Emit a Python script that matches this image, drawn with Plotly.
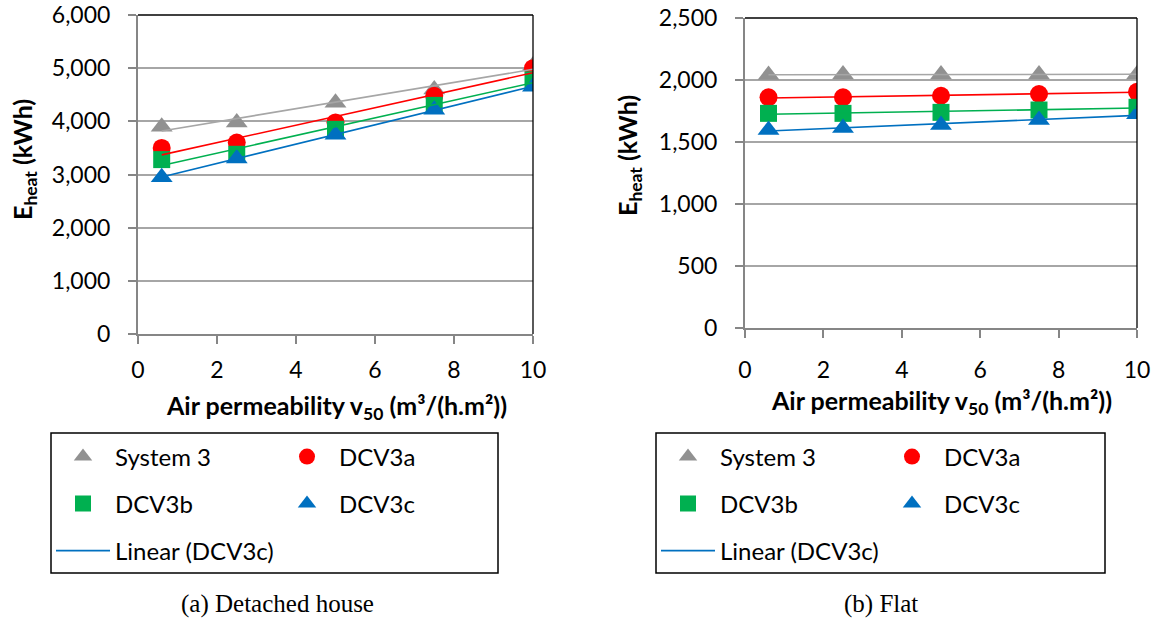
import numpy as np
import plotly.graph_objects as go

# ---------------- data ----------------
x_vals = [0.6, 2.5, 5, 7.5, 10]
series_names = ["System 3", "DCV3a", "DCV3b", "DCV3c"]

house_system3 = [3900, 3980, 4350, 4600, 5050]
house_dcv3a = [3500, 3600, 3980, 4480, 5000]
house_dcv3b = [3280, 3380, 3850, 4300, 4780]
house_dcv3c = [2950, 3300, 3750, 4220, 4650]

flat_system3 = [2040, 2045, 2045, 2045, 2045]
flat_dcv3a = [1860, 1860, 1873, 1887, 1905]
flat_dcv3b = [1731, 1731, 1739, 1758, 1780]
flat_dcv3c = [1597, 1613, 1637, 1677, 1723]

x_tick_vals = [0, 2, 4, 6, 8, 10]
house_y_ticks = [0, 1000, 2000, 3000, 4000, 5000, 6000]
flat_y_ticks = [0, 500, 1000, 1500, 2000, 2500]

captions = ["(a) Detached house", "(b) Flat"]
x_title = "Air permeability v<sub>50</sub> (m³/(h.m²))"
y_title = "E<sub>heat</sub> (kWh)"

# ---------------- styles ----------------
W, H = 1160, 622
FONT = "Lato"
marker_colors = ["#919191", "#FF0000", "#00B050", "#0070C0"]
trend_colors = ["#A6A6A6", "#FF0000", "#00B050", "#0070C0"]
symbols = ["triangle-up", "circle", "square", "triangle-up"]
msizes = [19, 18, 17, 19]


def fx(p):
    return p / W


def fy(p):
    return 1 - p / H


fig = go.Figure()

panels = [
    dict(xa="x", ya="y", data=[house_system3, house_dcv3a, house_dcv3b, house_dcv3c],
         legends=["legend", "legend", "legend2", "legend2", "legend3"]),
    dict(xa="x2", ya="y2", data=[flat_system3, flat_dcv3a, flat_dcv3b, flat_dcv3c],
         legends=["legend4", "legend4", "legend5", "legend5", "legend6"]),
]

for p in panels:
    for i, (name, ys) in enumerate(zip(series_names, p["data"])):
        fig.add_trace(go.Scatter(
            x=x_vals, y=ys, mode="markers", name=name,
            xaxis=p["xa"], yaxis=p["ya"], legend=p["legends"][i],
            marker=dict(symbol=symbols[i], size=msizes[i], color=marker_colors[i],
                        line=dict(width=0)),
            showlegend=True, hoverinfo="x+y+name"))
    for i, (name, ys) in enumerate(zip(series_names, p["data"])):
        slope, icpt = np.polyfit(x_vals, ys, 1)
        xt = [min(x_vals), max(x_vals)]
        yt = [slope * v + icpt for v in xt]
        fig.add_trace(go.Scatter(
            x=xt, y=yt, mode="lines", name=f"Linear ({name})",
            xaxis=p["xa"], yaxis=p["ya"], legend=p["legends"][4],
            line=dict(color=trend_colors[i], width=1.6),
            showlegend=(i == 3), hoverinfo="skip"))

axis_line = "#868686"
tickfont = dict(family=FONT, size=23, color="black")
titlefont = dict(family=FONT, size=25, color="black", weight="bold")


def xaxis_cfg(dom, anchor, standoff):
    return dict(domain=dom, anchor=anchor, range=[0, 10], tickvals=x_tick_vals,
                showline=True, linecolor=axis_line, linewidth=2, ticks="outside",
                ticklen=8, tickcolor=axis_line, tickwidth=1.5, tickfont=tickfont,
                showgrid=False, zeroline=False, ticklabelstandoff=standoff,
                ticklabeloverflow="allow", automargin=False)


def yaxis_cfg(dom, anchor, ticks, rng):
    return dict(domain=dom, anchor=anchor, range=rng, tickvals=ticks, tickformat=",",
                showline=True, linecolor=axis_line, linewidth=2, ticks="outside",
                ticklen=8, tickcolor=axis_line, tickwidth=1.5, tickfont=tickfont,
                showgrid=True, gridcolor="#A6A6A6", gridwidth=1.5, zeroline=False,
                ticklabelstandoff=13, ticklabeloverflow="allow", automargin=False)


def legend_cfg(x_px, y_px):
    return dict(x=fx(x_px), y=fy(y_px), xanchor="left", yanchor="middle",
                orientation="h", entrywidth=155, entrywidthmode="pixels",
                itemwidth=54, font=dict(family=FONT, size=24, color="black"),
                bgcolor="rgba(0,0,0,0)", borderwidth=0, itemclick=False,
                itemdoubleclick=False)


# legend box edges (px)
boxes = [(51, 433, 498, 573), (656, 433, 1105, 573)]
row_y = [457, 504, 551]

shapes = []
for (x0, y0, x1, y1) in boxes:
    shapes.append(dict(type="rect", xref="paper", yref="paper",
                       x0=fx(x0), x1=fx(x1), y0=fy(y1), y1=fy(y0),
                       line=dict(color="black", width=1.5), fillcolor="rgba(0,0,0,0)"))
# top / right plot borders
for xa, ya in [("x", "y"), ("x2", "y2")]:
    shapes.append(dict(type="line", xref=f"{xa} domain", yref=f"{ya} domain",
                       x0=0, x1=1, y0=1, y1=1, line=dict(color="black", width=1.3),
                       layer="above"))
    shapes.append(dict(type="line", xref=f"{xa} domain", yref=f"{ya} domain",
                       x0=1, x1=1, y0=0, y1=1, line=dict(color="black", width=1.3),
                       layer="above"))

cap_font = dict(family="Liberation Serif, Times New Roman, serif", size=25, color="black")


def ann(text, x, y, font, angle=0):
    return dict(text=text, x=fx(x), y=fy(y), xref="paper", yref="paper",
                showarrow=False, xanchor="center", yanchor="middle",
                textangle=angle, font=font)


annotations = [
    ann(captions[0], 277, 604, cap_font),
    ann(captions[1], 881, 604, cap_font),
    ann(x_title, 336, 407, titlefont),
    ann(x_title, 941, 402, titlefont),
    ann(y_title, 24, 160, titlefont, -90),
    ann(y_title, 629, 155, titlefont, -90),
]

fig.update_layout(
    width=W, height=H,
    margin=dict(l=0, r=0, t=0, b=0, autoexpand=False),
    paper_bgcolor="white", plot_bgcolor="white",
    font=dict(family=FONT, color="black"),
    xaxis=xaxis_cfg([fx(138), fx(533)], "y", 6),
    yaxis=yaxis_cfg([fy(334), fy(15)], "x", house_y_ticks, [0, 6000]),
    xaxis2=xaxis_cfg([fx(745), fx(1137)], "y2", 12),
    yaxis2=yaxis_cfg([fy(328), fy(18)], "x2", flat_y_ticks, [0, 2500]),
    legend=legend_cfg(51, row_y[0]),
    legend2=legend_cfg(51, row_y[1]),
    legend3=legend_cfg(51, row_y[2]),
    legend4=legend_cfg(656, row_y[0]),
    legend5=legend_cfg(656, row_y[1]),
    legend6=legend_cfg(656, row_y[2]),
    shapes=shapes,
    annotations=annotations,
    showlegend=True,
)

# remove the browser's default 8px page margin so the figure fills the window
fig.write_html("out.html",
               config={"displayModeBar": False},
               post_script="document.body.style.margin='0px';document.body.style.overflow='hidden';")
